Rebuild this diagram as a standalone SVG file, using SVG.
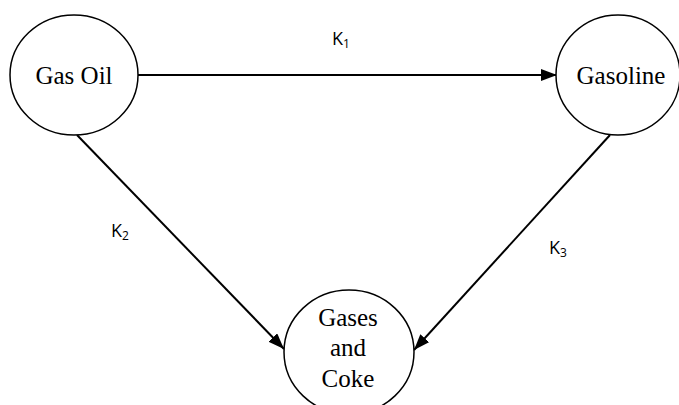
<svg xmlns="http://www.w3.org/2000/svg" width="679" height="405" viewBox="0 0 679 405">
<style>
.node ellipse{fill:#fff;stroke:#000;stroke-width:1.5}
.node text{font-family:"Liberation Serif","Times New Roman",serif;font-size:25px;fill:#000;text-anchor:middle}
.lbl{font-family:"Open Sans","Noto Sans",sans-serif;font-size:18px;fill:#000}
.sub{font-size:12px}
#edges line{stroke:#000;stroke-width:2;fill:none}
</style>
<defs>
<marker id="ah" viewBox="0 0 16 12" refX="16" refY="6" markerWidth="16" markerHeight="12" markerUnits="userSpaceOnUse" orient="auto">
<path d="M0,0 L16,6 L0,12 z" fill="#000"/>
</marker>
</defs>
<rect width="679" height="405" fill="#fff"/>
<g id="edges">
<line x1="138" y1="75" x2="557" y2="75" marker-end="url(#ah)"/>
<line x1="77" y1="135" x2="284" y2="349" marker-end="url(#ah)"/>
<line x1="610" y1="135" x2="414" y2="350" marker-end="url(#ah)"/>
</g>
<g id="labels">
<text class="lbl" x="332" y="45">K<tspan class="sub" dy="3">1</tspan></text>
<text class="lbl" x="111" y="237">K<tspan class="sub" dy="3">2</tspan></text>
<text class="lbl" x="549" y="254">K<tspan class="sub" dy="3">3</tspan></text>
</g>
<g id="gasoil" class="node">
<ellipse cx="74" cy="75" rx="64" ry="60"/>
<text x="74" y="84">Gas Oil</text>
</g>
<g id="gasoline" class="node">
<ellipse cx="618" cy="75" rx="62" ry="60"/>
<text x="621" y="84">Gasoline</text>
</g>
<g id="gasescoke" class="node">
<ellipse cx="349" cy="352" rx="65" ry="62"/>
<text x="348" y="326">Gases</text>
<text x="348" y="356">and</text>
<text x="348" y="387">Coke</text>
</g>
</svg>
